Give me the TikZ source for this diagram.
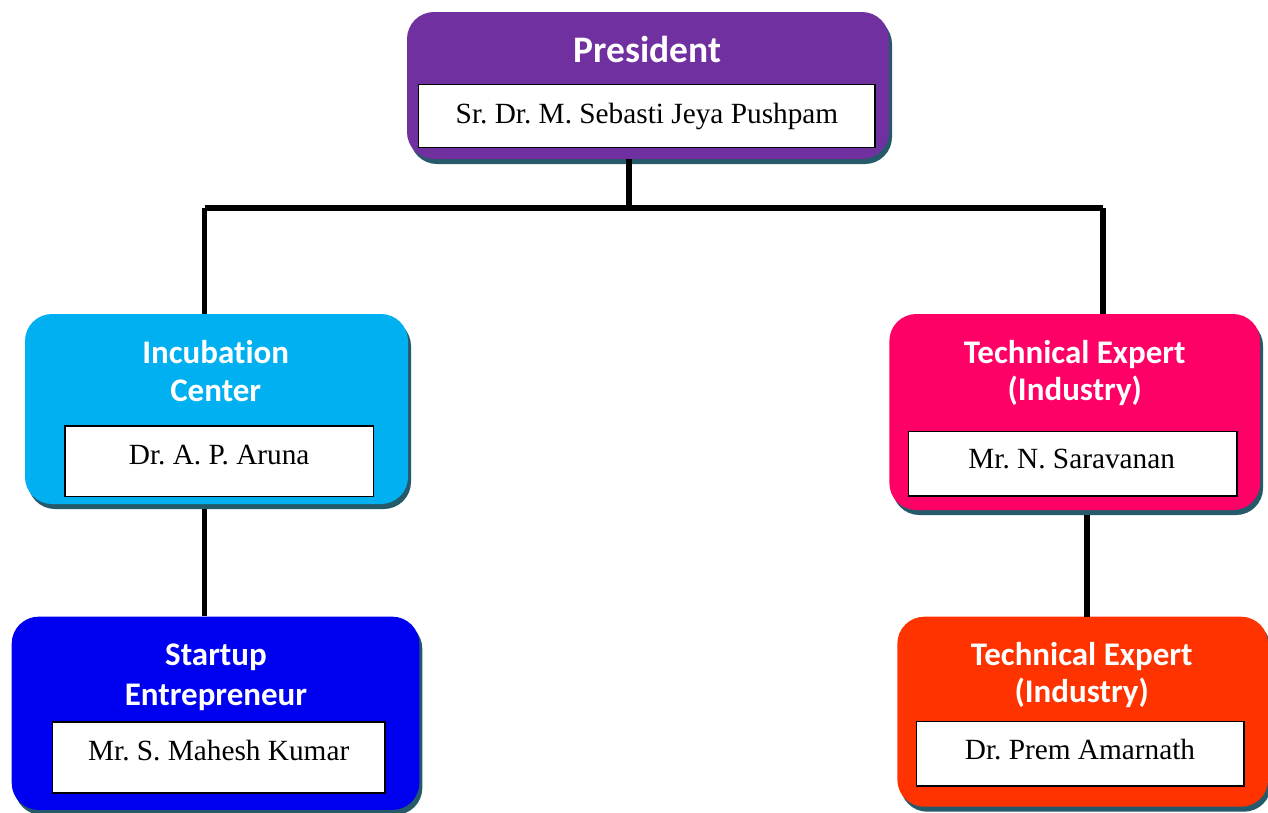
\documentclass[tikz,border=0pt]{standalone}
\usepackage{fontspec}
\setmainfont{Liberation Serif}
\newfontfamily\titlefont[Ligatures=NoCommon]{Carlito}
\usetikzlibrary{shadows}
\definecolor{presc}{HTML}{7030A0}
\definecolor{incc}{HTML}{00B0F0}
\definecolor{techc}{HTML}{FF0066}
\definecolor{startc}{HTML}{0000F0}
\definecolor{techtwoc}{HTML}{FF3300}
\definecolor{shadowc}{HTML}{245A6A}
\frenchspacing
\begin{document}
\begin{tikzpicture}[x=1pt,y=-1pt,
  orgbox/.style={draw=none, rounded corners=27pt, inner sep=0pt,
    drop shadow={shadow xshift=3pt, shadow yshift=-5pt, fill=shadowc, opacity=1}},
  namebox/.style={draw=black, line width=1.6pt, fill=white, inner sep=0pt},
  ttl/.style={text=white, font=\titlefont\bfseries\fontsize{33}{38}\selectfont, anchor=base, inner sep=0pt},
  bigttl/.style={ttl, font=\titlefont\bfseries\fontsize{37.5}{44}\selectfont},
  nm/.style={font=\fontsize{29.3}{34}\selectfont, anchor=base, inner sep=0pt},
  link/.style={line width=5.6pt, black}]
\useasboundingbox (0,0) rectangle (1268,812);

\coordinate (jm) at (629,208);
\coordinate (jl) at (204.5,208);
\coordinate (jr) at (1103,208);
\coordinate (rl) at (1087,0);

% President
\node[orgbox, fill=presc, minimum width=482, minimum height=147] (pres) at (648,85.5) {};
\node[namebox, minimum width=456.7, minimum height=63] (presn) at (646.7,115.8) {};
\node[bigttl] (prest) at (647.2,62) {President};
\node[nm] (presname) at (647,123.3) {Sr. Dr. M. Sebasti Jeya Pushpam};

% Incubation Center
\node[orgbox, fill=incc, minimum width=383, minimum height=190] (inc) at (216.5,409) {};
\node[namebox, minimum width=308.3, minimum height=70.7] (incn) at (219.2,461.3) {};
\node[ttl] (inct1) at (215.7,363.3) {Incubation};
\node[ttl] (inct2) at (215.7,401.7) {Center};
\node[nm] (incname) at (219.2,464) {Dr. A. P. Aruna};

% Technical Expert 1
\node[orgbox, fill=techc, minimum width=370.7, minimum height=196] (tech) at (1074.7,412) {};
\node[namebox, minimum width=328.4, minimum height=64.3] (techn) at (1072.5,463.8) {};
\node[ttl] (techt1) at (1074.8,363.3) {Technical Expert};
\node[ttl] (techt2) at (1074.8,400.5) {(Industry)};
\node[nm] (techname) at (1071.7,468) {Mr. N. Saravanan};

% Startup Entrepreneur
\node[orgbox, fill=startc, minimum width=407.6, minimum height=193.3] (start) at (215.5,713.3) {};
\node[namebox, minimum width=332.3, minimum height=71] (startn) at (218.8,757.2) {};
\node[ttl] (startt1) at (216,665) {Startup};
\node[ttl] (startt2) at (216,705) {Entrepreneur};
\node[nm] (startname) at (218.7,760) {Mr. S. Mahesh Kumar};

% Technical Expert 2
\node[orgbox, fill=techtwoc, minimum width=370.7, minimum height=190] (techb) at (1082.7,711.7) {};
\node[namebox, minimum width=327.3, minimum height=64.3] (techbn) at (1080.3,753.8) {};
\node[ttl] (techbt1) at (1081.7,665) {Technical Expert};
\node[ttl] (techbt2) at (1081.7,702) {(Industry)};
\node[nm] (techbname) at (1080,759.3) {Dr. Prem Amarnath};

% connectors
\draw[link] (jm |- pres.south) -- (jm);
\draw[link] (jl) -- (jr);
\draw[link] (jl) -- (jl |- inc.north);
\draw[link] (jr) -- (jr |- tech.north);
\draw[link] ([yshift=-5pt]jl |- inc.south) -- (jl |- start.north);
\draw[link] ([yshift=-5pt]rl |- tech.south) -- (rl |- techb.north);
\end{tikzpicture}
\end{document}
